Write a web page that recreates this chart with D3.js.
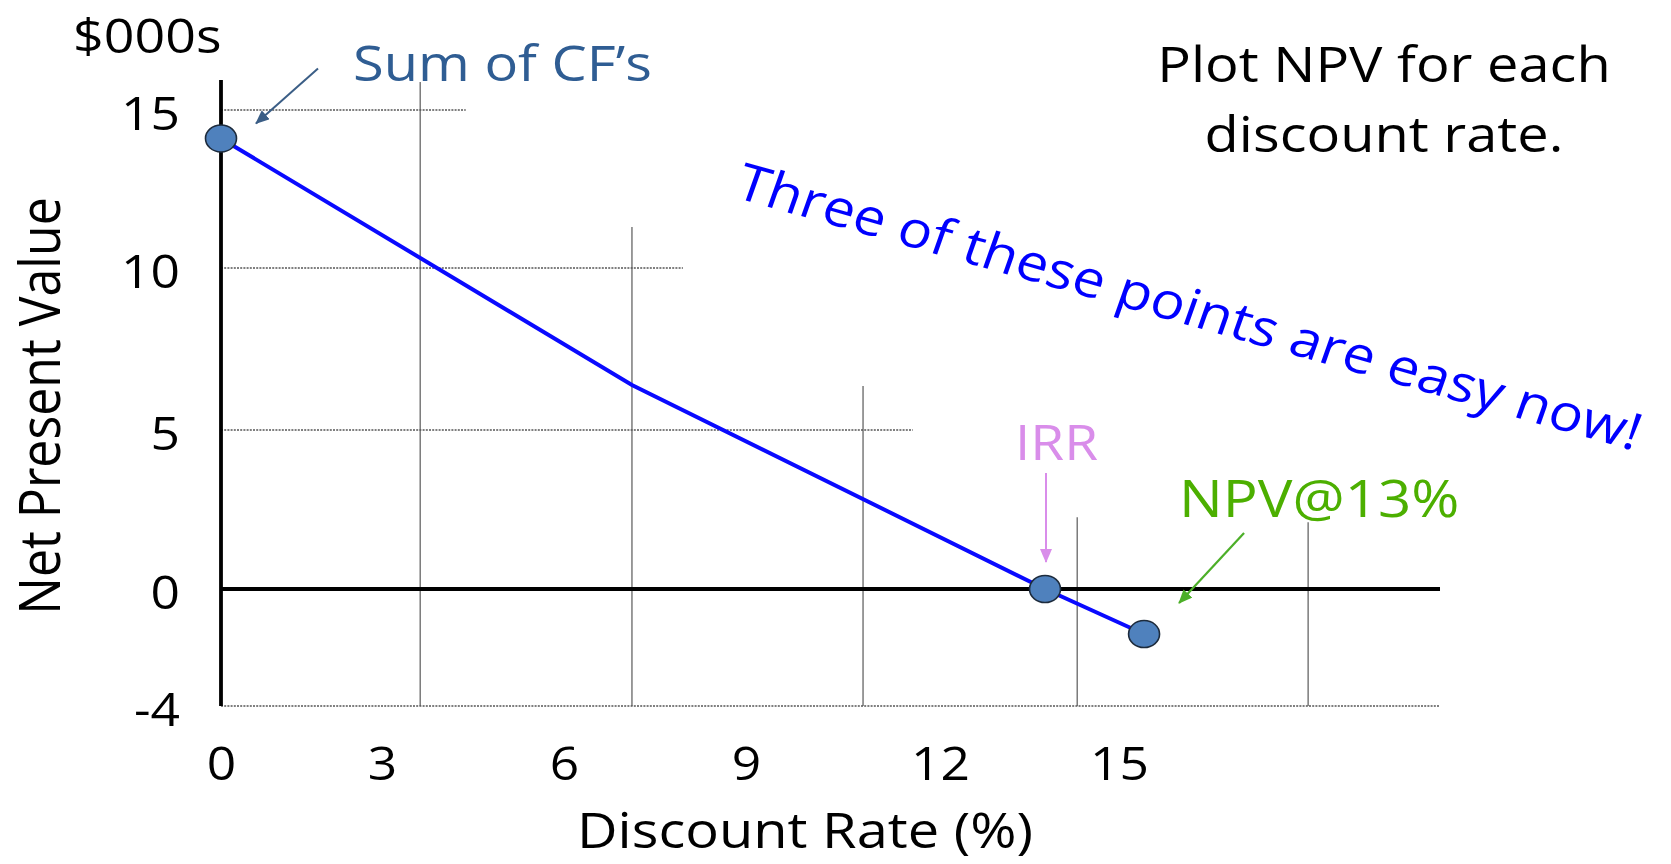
<!DOCTYPE html>
<html>
<head>
<meta charset="utf-8">
<script src="https://cdn.jsdelivr.net/npm/d3@7"></script>
<style>
  html, body { margin: 0; padding: 0; background: #fff; }
  svg { display: block; }
  text { font-family: "Open Sans", "Noto Sans", sans-serif; }
</style>
</head>
<body>
<svg id="chart" width="1671" height="864"></svg>
<script>
// ---------- data ----------
const rates = [0, 7.12, 13.76, 15.42];            // discount rate (%) – line vertices
const npv   = [14.1, 6.39, 0, -1.54];              // NPV ($000s)
const markedIdx = [0, 2, 3];                       // points drawn as dots
const xTicks = [0, 3, 6, 9, 12, 15];
const yTicks = [-4, 0, 5, 10, 15];
const gridRates = [3.63, 7.12, 10.81, 14.30, 18.17]; // vertical grid lines
const gridTops  = [15.89, 11.3, 6.36, 2.26, 2.1];    // NPV where each starts
const hGridVals = [15, 10, 5, -4];                   // horizontal dotted lines
const hGridEnds = [4.38, 7.96, 11.58, 20.38];        // rate where each ends
const axisTopNpv = 15.95;
const zeroEnd = 20.38;

// ---------- setup ----------
const SX = 1.12; // horizontal stretch of the slide
const svg = d3.select("#chart");
svg.append("rect").attr("width", 1671).attr("height", 864).attr("fill", "#fff");

const x = d3.scaleLinear().domain(xTicks).range([221, 382, 564, 746, 940, 1119]);
const y = d3.scaleLinear().domain([-4, 0, 5, 10, 15]).range([706, 589, 430, 268, 110]);

const defs = svg.append("defs");
function marker(id, color) {
  defs.append("marker").attr("id", id)
    .attr("markerUnits", "userSpaceOnUse")
    .attr("viewBox", "0 0 14 12").attr("refX", 13).attr("refY", 6)
    .attr("markerWidth", 14).attr("markerHeight", 12).attr("orient", "auto")
    .append("path").attr("d", "M0,0 L14,6 L0,12 z").attr("fill", color);
}
marker("arBlue", "#3B5E86");
marker("arViolet", "#D98DEA");
marker("arGreen", "#4CAF28");

function label(px, py, str, o) {
  return svg.append("text")
    .attr("transform", `translate(${px},${py}) scale(${SX},1) rotate(${o.rotate || 0})`)
    .attr("text-anchor", o.anchor || "start")
    .attr("font-size", o.size)
    .attr("fill", o.fill || "#000")
    .text(str);
}

// ---------- grid ----------
const grid = svg.append("g");
grid.selectAll("line.v").data(gridRates).join("line").attr("class", "v")
  .attr("x1", d => x(d)).attr("x2", d => x(d))
  .attr("y1", (d, i) => y(gridTops[i])).attr("y2", y(-4))
  .attr("stroke", "#7a7a7a").attr("stroke-width", 1.5);

grid.selectAll("line.h").data(hGridVals).join("line").attr("class", "h")
  .attr("x1", x(0)).attr("x2", (d, i) => x(hGridEnds[i]))
  .attr("y1", d => y(d)).attr("y2", d => y(d))
  .attr("stroke", "#555").attr("stroke-width", 1.6).attr("stroke-dasharray", "2,1.2");

// zero line
svg.append("line").attr("x1", x(0)).attr("x2", x(zeroEnd))
  .attr("y1", y(0)).attr("y2", y(0)).attr("stroke", "#000").attr("stroke-width", 4);
// y axis line
svg.append("line").attr("x1", x(0)).attr("x2", x(0))
  .attr("y1", y(axisTopNpv)).attr("y2", y(-4)).attr("stroke", "#000").attr("stroke-width", 3.8);

// ---------- axes labels ----------
const xAxis = svg.append("g").attr("transform", "translate(0,780)")
  .call(d3.axisBottom(x).tickValues(xTicks).tickSize(0).tickFormat(d3.format("d")));
xAxis.select(".domain").remove();
xAxis.selectAll("text").attr("x", 0).attr("y", 0).attr("dy", 0)
  .attr("transform", `scale(${SX},1)`)
  .attr("font-size", 46).attr("fill", "#000")
  .attr("font-family", "'Open Sans', sans-serif");

const yAxis = svg.append("g").attr("transform", "translate(180,0)")
  .call(d3.axisLeft(y).tickValues(yTicks).tickSize(0).tickFormat(d => d < 0 ? "-" + Math.abs(d) : d));
yAxis.select(".domain").remove();
yAxis.selectAll("text").attr("x", 0).attr("dy", "0.36em").attr("y", 3)
  .attr("transform", `scale(${SX},1)`)
  .attr("font-size", 46).attr("fill", "#000").attr("text-anchor", "end")
  .attr("font-family", "'Open Sans', sans-serif");

label(805, 848, "Discount Rate (%)", { size: 50, anchor: "middle" });
label(60, 406, "Net Present Value", { size: 50, anchor: "middle", rotate: -90 });
label(73, 53, "$000s", { size: 48 });

// ---------- line & points ----------
const pts = rates.map((r, i) => [r, npv[i]]);
svg.append("path").datum(pts)
  .attr("d", d3.line().x(d => x(d[0])).y(d => y(d[1])))
  .attr("fill", "none").attr("stroke", "#0a0aff").attr("stroke-width", 4);

svg.selectAll("ellipse.pt").data(markedIdx.map(i => pts[i])).join("ellipse").attr("class", "pt")
  .attr("cx", d => x(d[0])).attr("cy", d => y(d[1]))
  .attr("rx", 15.5).attr("ry", 13.5)
  .attr("fill", "#4F81BD").attr("stroke", "#1d2b3c").attr("stroke-width", 1.6);

// ---------- annotations ----------
const p0 = pts[0], pIrr = pts[2], p13 = pts[3];
svg.append("line")
  .attr("x1", x(p0[0]) + 97).attr("y1", y(p0[1]) - 70)
  .attr("x2", x(p0[0]) + 35).attr("y2", y(p0[1]) - 15)
  .attr("stroke", "#3B5E86").attr("stroke-width", 2).attr("marker-end", "url(#arBlue)");
label(353, 81, "Sum of CF\u2019s", { size: 50, fill: "#2F5D93" });

svg.append("line")
  .attr("x1", x(pIrr[0]) + 1).attr("y1", y(pIrr[1]) - 116)
  .attr("x2", x(pIrr[0]) + 1).attr("y2", y(pIrr[1]) - 27)
  .attr("stroke", "#D98DEA").attr("stroke-width", 2).attr("marker-end", "url(#arViolet)");
label(1015, 460, "IRR", { size: 49, fill: "#D98DEA" });

svg.append("line")
  .attr("x1", x(p13[0]) + 100).attr("y1", y(p13[1]) - 101)
  .attr("x2", x(p13[0]) + 35).attr("y2", y(p13[1]) - 31)
  .attr("stroke", "#4CAF28").attr("stroke-width", 2.2).attr("marker-end", "url(#arGreen)");
label(1179, 517, "NPV@13%", { size: 52, fill: "#4CAF00" });

label(1384, 82, "Plot NPV for each", { size: 50, anchor: "middle" });
label(1384, 152, "discount rate.", { size: 50, anchor: "middle" });

label(733, 197, "Three of these points are easy now!", { size: 51, fill: "#0000ff", rotate: 17.5 });
</script>
</body>
</html>
